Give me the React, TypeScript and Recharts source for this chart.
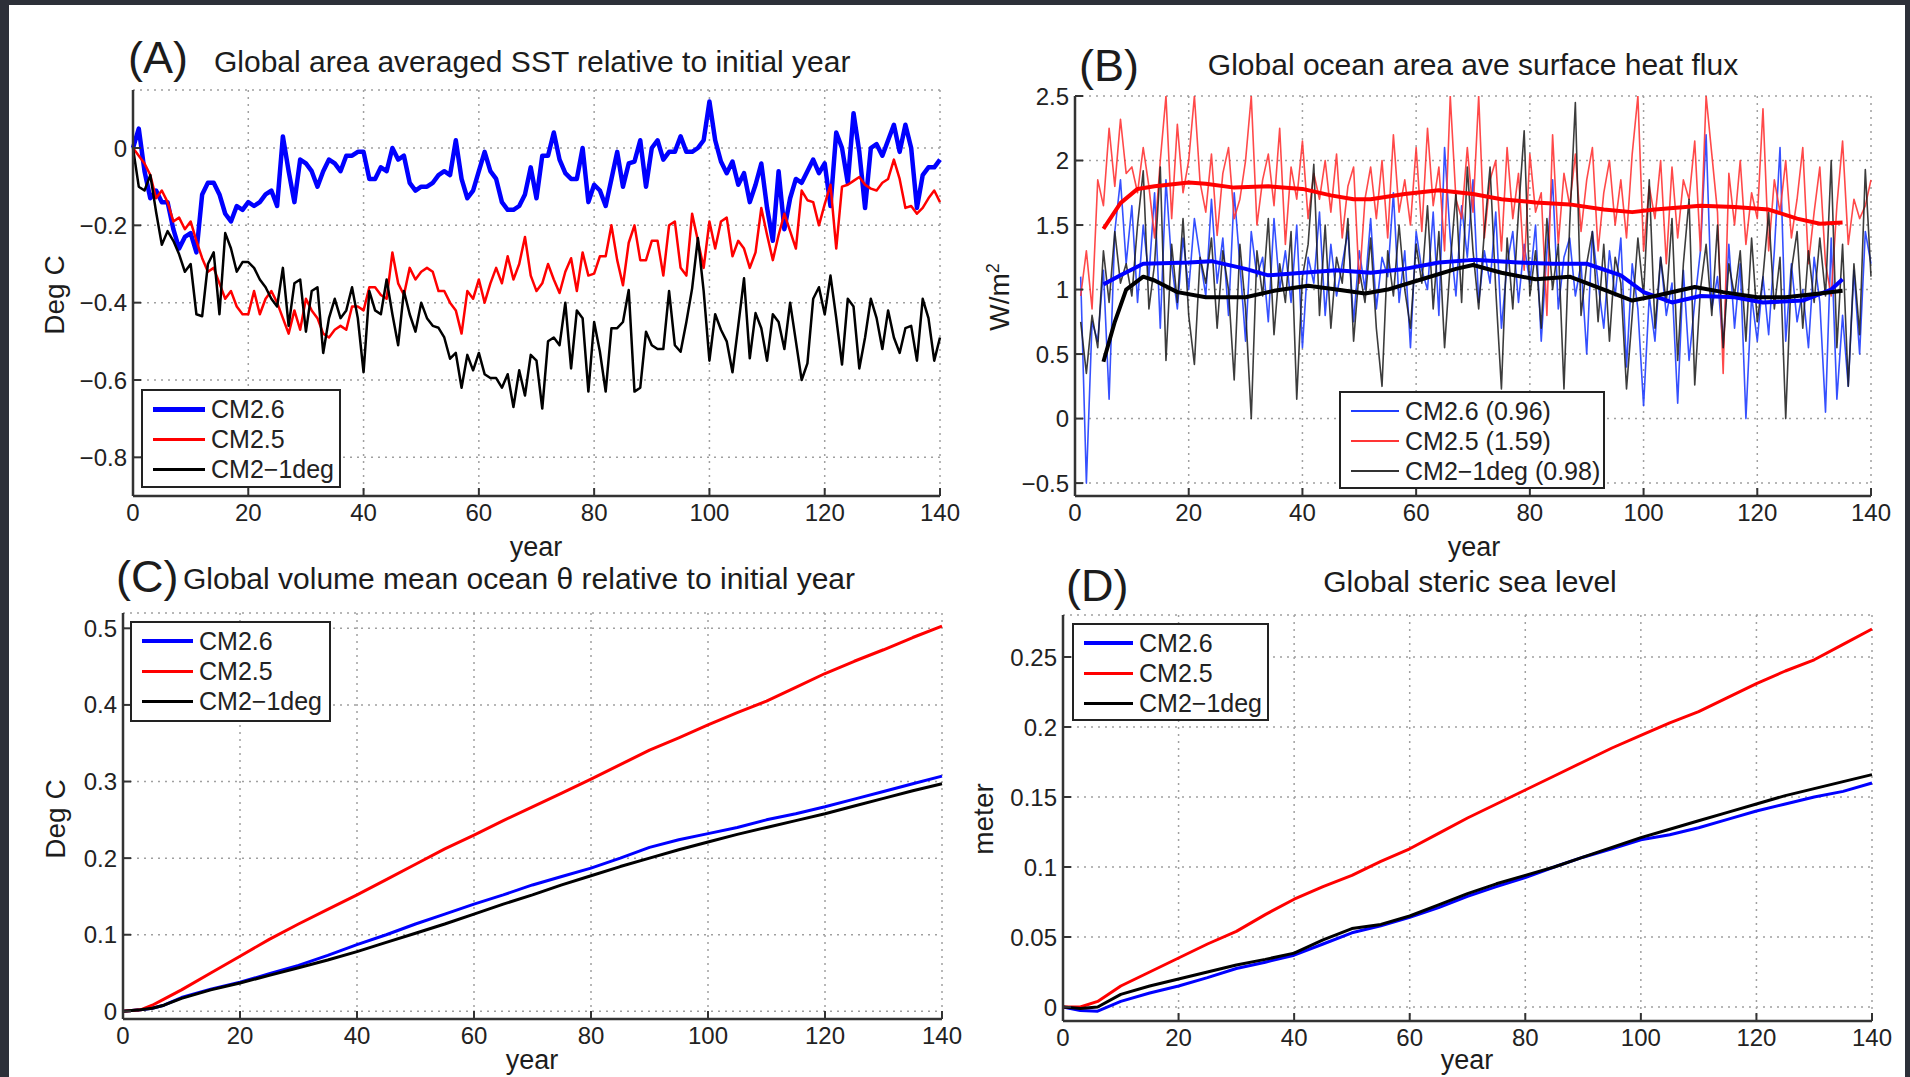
import React from 'react';
import { LineChart, Line, XAxis, YAxis, CartesianGrid, Legend } from 'recharts';

const FONT = '"Liberation Sans", Arial, Helvetica, sans-serif';

// ---------- (A) Global area averaged SST relative to initial year (years 0..140)
const sstYears = Array.from({ length: 141 }, (_, i) => i);
const sstCM26 = [
  0, 0.05, -0.06, -0.13, -0.11, -0.14, -0.14, -0.21, -0.26, -0.23,
  -0.22, -0.27, -0.12, -0.09, -0.09, -0.12, -0.17, -0.19, -0.15, -0.16,
  -0.14, -0.15, -0.14, -0.12, -0.11, -0.15, 0.03, -0.06, -0.14, -0.03,
  -0.04, -0.06, -0.1, -0.06, -0.03, -0.04, -0.06, -0.02, -0.02, -0.01,
  -0.01, -0.08, -0.08, -0.05, -0.06, 0.0, -0.03, -0.02, -0.09, -0.11,
  -0.1, -0.1, -0.09, -0.07, -0.06, -0.07, 0.02, -0.08, -0.13, -0.11,
  -0.06, -0.01, -0.06, -0.08, -0.14, -0.16, -0.16, -0.15, -0.12, -0.05,
  -0.13, -0.02, -0.02, 0.04, -0.03, -0.065, -0.08, -0.08, 0.0, -0.14,
  -0.095, -0.11, -0.15, -0.08, -0.01, -0.1, -0.04, -0.035, 0.02, -0.1,
  0.0, 0.02, -0.03, -0.01, -0.01, 0.03, -0.01, -0.01, 0.0, 0.02,
  0.12, 0.02, -0.035, -0.065, -0.035, -0.095, -0.065, -0.14, -0.095, -0.04,
  -0.155, -0.24, -0.06, -0.21, -0.13, -0.08, -0.09, -0.06, -0.03, -0.065,
  -0.04, -0.15, 0.04, 0.0, -0.09, 0.09, -0.01, -0.155, 0.0, 0.01,
  -0.02, 0.02, 0.06, -0.01, 0.06, 0.0, -0.155, -0.07, -0.05, -0.05, -0.03,
];
const sstCM25 = [
  0, -0.02, -0.04, -0.07, -0.13, -0.11, -0.14, -0.19, -0.18, -0.21,
  -0.19, -0.24, -0.285, -0.32, -0.31, -0.35, -0.39, -0.37, -0.41, -0.43,
  -0.43, -0.37, -0.43, -0.39, -0.37, -0.4, -0.44, -0.48, -0.42, -0.47,
  -0.39, -0.42, -0.44, -0.48, -0.49, -0.47, -0.46, -0.47, -0.41, -0.41,
  -0.42, -0.36, -0.36, -0.38, -0.39, -0.27, -0.35, -0.38, -0.31, -0.34,
  -0.32, -0.31, -0.32, -0.37, -0.37, -0.4, -0.42, -0.48, -0.37, -0.39,
  -0.34, -0.4, -0.35, -0.31, -0.35, -0.28, -0.34, -0.3, -0.23, -0.33,
  -0.37, -0.35, -0.3, -0.34, -0.375, -0.32, -0.285, -0.37, -0.27, -0.33,
  -0.325, -0.28, -0.28, -0.2, -0.29, -0.355, -0.245, -0.2, -0.29, -0.29,
  -0.24, -0.24, -0.33, -0.2, -0.19, -0.31, -0.33, -0.17, -0.24, -0.31,
  -0.19, -0.26, -0.19, -0.18, -0.28, -0.24, -0.26, -0.31, -0.27, -0.155,
  -0.225, -0.29, -0.225, -0.17, -0.215, -0.26, -0.11, -0.135, -0.14, -0.2,
  -0.145, -0.095, -0.26, -0.1, -0.095, -0.085, -0.075, -0.095, -0.105, -0.11,
  -0.09, -0.08, -0.03, -0.08, -0.155, -0.15, -0.17, -0.155, -0.13, -0.11, -0.14,
];
const sstCM21 = [
  0, -0.1, -0.11, -0.07, -0.165, -0.25, -0.215, -0.24, -0.275, -0.32,
  -0.3, -0.43, -0.435, -0.3, -0.27, -0.43, -0.22, -0.26, -0.32, -0.295,
  -0.295, -0.31, -0.34, -0.36, -0.39, -0.41, -0.31, -0.46, -0.35, -0.34,
  -0.475, -0.37, -0.36, -0.53, -0.44, -0.39, -0.44, -0.42, -0.36, -0.44,
  -0.58, -0.37, -0.42, -0.43, -0.34, -0.43, -0.51, -0.37, -0.43, -0.475,
  -0.4, -0.44, -0.46, -0.465, -0.49, -0.545, -0.53, -0.62, -0.535, -0.575,
  -0.53, -0.585, -0.595, -0.595, -0.62, -0.585, -0.67, -0.575, -0.64, -0.535,
  -0.55, -0.674, -0.5, -0.49, -0.51, -0.4, -0.57, -0.42, -0.44, -0.63,
  -0.45, -0.527, -0.63, -0.466, -0.466, -0.45, -0.367, -0.63, -0.62, -0.475,
  -0.51, -0.52, -0.52, -0.37, -0.51, -0.527, -0.45, -0.363, -0.233, -0.37,
  -0.55, -0.43, -0.47, -0.5, -0.58, -0.46, -0.337, -0.544, -0.427, -0.466,
  -0.55, -0.43, -0.45, -0.52, -0.4, -0.5, -0.6, -0.557, -0.39, -0.36,
  -0.43, -0.33, -0.44, -0.56, -0.39, -0.41, -0.57, -0.49, -0.39, -0.44,
  -0.52, -0.42, -0.49, -0.53, -0.466, -0.46, -0.55, -0.39, -0.44, -0.55, -0.49,
];

// ---------- (B) Global ocean area ave surface heat flux (years 1..140)
const fluxYears = Array.from({ length: 140 }, (_, i) => i + 1);
const fluxCM26 = [
  1.1, -0.5, 0.75, 0.6, 1.15, 0.15, 1.45, 1.85, 1.2, 1.65,
  0.9, 1.5, 1.1, 1.75, 0.7, 1.85, 1.2, 0.85, 1.4, 1.0,
  1.55, 1.25, 0.95, 1.7, 1.05, 1.4, 0.8, 1.75, 1.2, 0.6,
  1.45, 1.1, 1.25, 0.75, 1.55, 1.0, 1.3, 0.9, 1.5, 0.55,
  1.25, 1.05, 1.6, 0.8, 1.35, 0.95, 1.2, 1.45, 0.75, 1.3,
  1.0, 1.55, 0.85, 1.25, 1.1, 1.75, 0.9, 1.3, 0.55, 1.45,
  1.15, 1.0, 1.6, 0.8, 2.1, 1.4, 0.95, 1.65, 1.25, 1.85,
  0.9, 1.3, 1.05, 1.6, 0.7, 1.2, 1.45, 0.9, 1.35, 1.05,
  1.5, 0.6, 1.3, 1.85, 0.85, 1.25, 1.4, 0.95, 1.2, 0.5,
  1.45, 1.05, 0.7, 1.3, 0.95, 1.4, 0.4, 1.2, 0.85, 0.1,
  0.95, 0.6, 1.25, 0.8, 1.05, 0.12, 1.15, 0.45, 0.9, 1.3,
  2.2, 0.85, 1.1, 0.55, 1.35, 0.7, 1.2, 0.0, 0.95, 0.6,
  1.1, 0.65, 1.3, 2.1, 0.6, 1.2, 0.75, 1.0, 0.55, 1.25,
  0.9, 0.05, 1.4, 0.15, 0.8, 0.25, 1.15, 0.5, 1.45, 1.2,
];
const fluxCM25 = [
  0.95, 1.3, 0.85, 1.85, 1.65, 2.25, 1.8, 2.32, 1.9, 1.95,
  1.75, 2.1, 1.8, 1.4, 2.0, 2.5, 1.55, 2.28, 1.75, 2.0,
  2.5, 1.83, 1.6, 2.05, 1.42, 1.9, 2.1, 1.55, 1.7, 2.0,
  2.5, 1.5, 1.85, 2.05, 1.65, 2.25, 1.35, 1.95, 1.7, 2.15,
  1.55, 1.9, 1.7, 2.0, 1.6, 2.05, 1.4, 1.8, 1.95, 1.05,
  1.7, 1.95, 1.55, 2.0, 1.4, 2.2, 1.6, 1.85, 1.5, 2.1,
  1.45, 2.25, 1.65, 1.95, 1.3, 2.5, 1.7, 1.55, 2.1, 1.6,
  2.5, 1.4, 1.85, 2.0, 1.3, 2.1, 1.55, 1.9, 1.15, 2.05,
  1.6, 1.75, 0.8, 2.2, 1.35, 1.9, 1.65, 2.05, 1.45, 1.85,
  2.1, 1.3, 1.75, 2.0, 1.5, 1.85, 1.4, 2.05, 2.5, 1.3,
  1.8, 1.55, 2.0, 1.2, 1.95, 1.4, 1.85, 1.7, 2.15, 1.3,
  2.5, 2.05, 1.6, 0.35, 1.9, 1.5, 2.0, 1.35, 1.75, 1.55,
  2.4, 1.3, 1.85, 1.6, 2.0, 1.4, 1.7, 2.1, 1.2, 1.6,
  1.95, 1.2, 0.95, 1.65, 2.15, 1.35, 1.7, 1.55, 1.65, 1.85,
];
const fluxCM21 = [
  0.75, 0.35, 0.8, 0.55, 1.3, 0.9, 1.45, 1.05, 1.2, 0.95,
  1.5, 1.92, 0.85, 1.2, 1.95, 0.45, 1.35, 0.9, 1.55, 0.8,
  0.42, 1.25, 1.05, 1.4, 0.7, 1.3, 1.0, 0.3, 1.35, 0.85,
  0.0, 1.3, 0.95, 1.55, 0.65, 1.2, 0.9, 1.45, 0.15, 1.1,
  1.35, 1.97, 0.8, 1.5, 0.7, 1.25, 1.05, 1.55, 0.6, 1.15,
  0.9, 1.4, 0.7, 0.25, 1.3, 0.95, 1.5, 1.0, 0.7, 1.35,
  1.05, 1.65, 0.85, 1.45, 0.55, 1.2, 1.75, 0.9, 1.95, 1.3,
  0.85, 1.45, 1.95, 1.0, 0.23, 1.4, 0.85, 1.6, 2.23, 0.95,
  1.3, 0.7, 1.55, 1.0, 1.35, 0.23, 1.5, 2.45, 0.8, 1.2,
  1.45, 0.75, 1.35, 0.6, 1.25, 1.05, 0.23, 0.8, 1.4, 0.95,
  1.85, 0.7, 1.25, 0.9, 1.55, 0.45, 1.2, 1.7, 0.26, 1.0,
  1.35, 0.8, 1.5, 0.55, 1.2, 0.95, 1.3, 0.6, 1.4, 0.75,
  1.1, 1.6, 0.85, 1.25, 0.0, 1.15, 1.45, 0.7, 1.3, 0.9,
  1.4, 0.95, 2.0, 0.55, 1.35, 0.25, 1.2, 0.65, 1.93, 1.1,
];
// running means
const smoothYears26 = [5, 8, 12, 20, 24, 30, 34, 40, 46, 52, 58, 64, 70, 78, 84, 90, 96, 100, 105, 110, 116, 121, 128, 133, 135];
const smoothCM26 = [1.04, 1.11, 1.2, 1.21, 1.22, 1.16, 1.11, 1.13, 1.15, 1.13, 1.16, 1.21, 1.23, 1.21, 1.2, 1.2, 1.11, 0.98, 0.9, 0.95, 0.94, 0.9, 0.915, 1.0, 1.08];
const smoothYears25 = [5, 8, 11, 14, 20, 23, 28, 34, 40, 45, 49, 52, 58, 64, 70, 75, 81, 87, 93, 98, 102, 110, 116, 122, 127, 131, 135];
const smoothCM25 = [1.47, 1.67, 1.78, 1.8, 1.83, 1.82, 1.79, 1.8, 1.78, 1.73, 1.7, 1.7, 1.74, 1.77, 1.74, 1.7, 1.675, 1.66, 1.62, 1.6, 1.62, 1.65, 1.64, 1.62, 1.55, 1.51, 1.52];
const smoothYears21 = [5, 7, 9, 12, 14, 18, 23, 30, 35, 41, 46, 51, 55, 61, 67, 70, 75, 81, 87, 93, 98, 102, 109, 114, 120, 125, 131, 135];
const smoothCM21 = [0.44, 0.75, 1.0, 1.1, 1.07, 0.98, 0.94, 0.94, 0.99, 1.03, 1.0, 0.97, 1.0, 1.08, 1.16, 1.19, 1.13, 1.08, 1.1, 1.0, 0.915, 0.95, 1.02, 0.98, 0.94, 0.94, 0.97, 0.99];

// ---------- (C) Global volume mean ocean theta relative to initial year
const thetaYears = [0, 3, 5, 7, 10, 15, 20, 25, 30, 35, 40, 45, 50, 55, 60, 65, 70, 75, 80, 85, 90, 95, 100, 105, 110, 115, 120, 125, 130, 135, 140];
const thetaCM26 = [0, 0.002, 0.004, 0.008, 0.018, 0.029, 0.038, 0.049, 0.06, 0.073, 0.087, 0.1, 0.114, 0.127, 0.14, 0.152, 0.165, 0.176, 0.187, 0.2, 0.214, 0.224, 0.232, 0.24, 0.25, 0.258, 0.267, 0.277, 0.287, 0.297, 0.307];
const thetaCM25 = [0, 0.002, 0.008, 0.016, 0.028, 0.05, 0.072, 0.094, 0.114, 0.133, 0.152, 0.172, 0.192, 0.212, 0.23, 0.249, 0.267, 0.285, 0.303, 0.322, 0.341, 0.357, 0.374, 0.39, 0.405, 0.423, 0.441, 0.457, 0.472, 0.488, 0.503];
const thetaCM21 = [0, 0.002, 0.004, 0.008, 0.017, 0.028, 0.037, 0.047, 0.057, 0.067, 0.078, 0.09, 0.102, 0.114, 0.127, 0.14, 0.152, 0.165, 0.177, 0.189, 0.2, 0.211, 0.221, 0.231, 0.24, 0.249, 0.258, 0.268, 0.278, 0.288, 0.297];

// ---------- (D) Global steric sea level
const stericYears = [0, 3, 6, 10, 15, 20, 25, 30, 35, 40, 45, 50, 55, 60, 65, 70, 75, 80, 85, 90, 95, 100, 105, 110, 115, 120, 125, 130, 135, 140];
const stericCM26 = [0, -0.0025, -0.003, 0.004, 0.01, 0.015, 0.021, 0.0275, 0.032, 0.037, 0.045, 0.053, 0.058, 0.064, 0.071, 0.079, 0.086, 0.0925, 0.1, 0.107, 0.113, 0.1195, 0.123, 0.128, 0.134, 0.14, 0.145, 0.15, 0.154, 0.16];
const stericCM25 = [0, 0, 0.004, 0.015, 0.025, 0.035, 0.045, 0.054, 0.066, 0.077, 0.086, 0.094, 0.104, 0.113, 0.124, 0.135, 0.145, 0.155, 0.165, 0.175, 0.185, 0.194, 0.203, 0.211, 0.221, 0.231, 0.24, 0.248, 0.259, 0.27];
const stericCM21 = [0, -0.001, 0, 0.009, 0.015, 0.02, 0.025, 0.03, 0.034, 0.0385, 0.048, 0.056, 0.059, 0.065, 0.073, 0.081, 0.088, 0.094, 0.1, 0.107, 0.114, 0.121, 0.127, 0.133, 0.139, 0.145, 0.151, 0.156, 0.161, 0.166];

const xTicks = [0, 20, 40, 60, 80, 100, 120, 140];
const ticksA = [-0.8, -0.6, -0.4, -0.2, 0];
const ticksB = [-0.5, 0, 0.5, 1, 1.5, 2, 2.5];
const ticksC = [0, 0.1, 0.2, 0.3, 0.4, 0.5];
const ticksD = [0, 0.05, 0.1, 0.15, 0.2, 0.25];

const BLUE = '#0000ff';
const RED = '#ff0000';
const BLACK = '#000000';

const minus = (s: string) => s.replace('-', '\u2212');

interface Series {
  key: string;
  xs: number[];
  ys: number[];
  color: string;
  width: number;
  opacity?: number;
}

interface LegendRow {
  label: string;
  color: string;
  width: number;
}

interface LegendBox {
  x: number;
  y: number;
  w: number;
  h: number;
  lineLen: number;
  rows: LegendRow[];
}

interface PanelProps {
  x: number;
  y: number;
  w: number;
  h: number;
  yDomain: [number, number];
  yTicks: number[];
  fmt: (v: number) => string;
  series: Series[];
  legend: LegendBox;
}

const PAD_L = 100;
const PAD_R = 34;
const PAD_T = 12;
const PAD_B = 50;

const toPoints = (xs: number[], ys: number[]) => xs.map((x, i) => ({ x, y: ys[i] }));

const axisLine = { stroke: '#333', strokeWidth: 2.5 };
const tickLine = { stroke: '#333', strokeWidth: 2 };
const tickFont = { fontSize: 24, fill: '#222', fontFamily: FONT };

function Panel(p: PanelProps) {
  const width = p.w + PAD_L + PAD_R;
  const height = p.h + PAD_T + PAD_B;
  const left = p.x - PAD_L;
  const top = p.y - PAD_T;
  const lg = p.legend;

  const legendContent = () => (
    <div
      style={{
        boxSizing: 'border-box',
        width: lg.w,
        height: lg.h,
        border: '2px solid #222',
        background: '#fff',
        padding: '3px 0 0 10px',
      }}
    >
      {lg.rows.map((r) => (
        <div key={r.label} style={{ display: 'flex', alignItems: 'center', height: 30 }}>
          <span style={{ display: 'inline-block', width: lg.lineLen, borderTop: `${r.width}px solid ${r.color}` }} />
          <span style={{ marginLeft: 6, fontSize: 25, color: '#222', fontFamily: FONT, whiteSpace: 'nowrap' }}>{r.label}</span>
        </div>
      ))}
    </div>
  );

  return (
    <div style={{ position: 'absolute', left, top }}>
      <LineChart width={width} height={height} margin={{ top: PAD_T, right: PAD_R, bottom: 0, left: 0 }}>
        <CartesianGrid stroke="#a0a0a0" strokeDasharray="2 5" strokeWidth={1.5} />
        <XAxis
          dataKey="x"
          type="number"
          domain={[0, 140]}
          ticks={xTicks}
          interval={0}
          height={PAD_B}
          tickSize={-8}
          tickMargin={16}
          axisLine={axisLine}
          tickLine={tickLine}
          tick={tickFont}
        />
        <XAxis
          xAxisId="top"
          orientation="top"
          dataKey="x"
          type="number"
          domain={[0, 140]}
          ticks={xTicks}
          interval={0}
          height={0}
          tickSize={-8}
          axisLine={axisLine}
          tickLine={tickLine}
          tick={false}
        />
        <YAxis
          type="number"
          domain={p.yDomain}
          ticks={p.yTicks}
          interval={0}
          allowDataOverflow
          width={PAD_L}
          tickSize={-8}
          tickMargin={14}
          axisLine={axisLine}
          tickLine={tickLine}
          tick={tickFont}
          tickFormatter={p.fmt}
        />
        <YAxis
          yAxisId="right"
          orientation="right"
          type="number"
          domain={p.yDomain}
          ticks={p.yTicks}
          interval={0}
          allowDataOverflow
          width={0}
          tickSize={-8}
          axisLine={axisLine}
          tickLine={tickLine}
          tick={false}
        />
        {p.series.map((s) => (
          <Line
            key={s.key}
            data={toPoints(s.xs, s.ys)}
            dataKey="y"
            type="linear"
            stroke={s.color}
            strokeWidth={s.width}
            strokeOpacity={s.opacity ?? 1}
            strokeLinejoin="round"
            dot={false}
            activeDot={false}
            isAnimationActive={false}
            legendType="none"
          />
        ))}
        <Legend
          layout="vertical"
          align="center"
          verticalAlign="middle"
          content={legendContent}
          wrapperStyle={{ left: lg.x - left, top: lg.y - top, width: lg.w, height: lg.h }}
        />
      </LineChart>
    </div>
  );
}

interface TxtProps {
  x: number;
  y: number;
  size: number;
  anchor?: 'start' | 'middle';
  rotate?: boolean;
  children: React.ReactNode;
}

function Txt({ x, y, size, anchor = 'start', rotate = false, children }: TxtProps) {
  const tx = anchor === 'middle' || rotate ? '-50%' : '0';
  return (
    <div
      style={{
        position: 'absolute',
        left: x,
        top: y,
        fontSize: size,
        lineHeight: 1,
        color: '#1c1c1c',
        whiteSpace: 'nowrap',
        fontFamily: FONT,
        transform: `translate(${tx}, -50%)${rotate ? ' rotate(-90deg)' : ''}`,
      }}
    >
      {children}
    </div>
  );
}

const legendRows = (w26: number, w25: number, w21: number): LegendRow[] => [
  { label: 'CM2.6', color: BLUE, width: w26 },
  { label: 'CM2.5', color: RED, width: w25 },
  { label: 'CM2\u22121deg', color: BLACK, width: w21 },
];

export default function App() {
  const fmtA = (v: number) => (v === 0 ? '0' : minus(v.toFixed(1)));
  const fmtB = (v: number) => minus(String(v));
  const fmtC = (v: number) => (v === 0 ? '0' : v.toFixed(1));
  const fmtD = (v: number) => String(v);

  return (
    <div style={{ position: 'absolute', left: 0, top: 0, width: 1910, height: 1077, background: '#2d3039', overflow: 'hidden', fontFamily: FONT }}>
      <div style={{ position: 'absolute', left: 9, top: 5, width: 1896, height: 1072, background: '#ffffff' }} />

      {/* (A) */}
      <Panel
        x={133}
        y={90}
        w={807}
        h={406}
        yDomain={[-0.9, 0.15]}
        yTicks={ticksA}
        fmt={fmtA}
        series={[
          { key: 'a26', xs: sstYears, ys: sstCM26, color: BLUE, width: 4.5 },
          { key: 'a25', xs: sstYears, ys: sstCM25, color: RED, width: 2.5 },
          { key: 'a21', xs: sstYears, ys: sstCM21, color: BLACK, width: 2.5 },
        ]}
        legend={{ x: 141, y: 389, w: 200, h: 99, lineLen: 52, rows: legendRows(5, 3, 3) }}
      />
      <Txt x={128} y={57} size={45}>(A)</Txt>
      <Txt x={214} y={62} size={30}>Global area averaged SST relative to initial year</Txt>
      <Txt x={536} y={547} size={27} anchor="middle">year</Txt>
      <Txt x={55} y={295} size={28} rotate>Deg C</Txt>

      {/* (B) */}
      <Panel
        x={1075}
        y={96}
        w={796}
        h={400}
        yDomain={[-0.6, 2.5]}
        yTicks={ticksB}
        fmt={fmtB}
        series={[
          { key: 'b26', xs: fluxYears, ys: fluxCM26, color: '#1f3dff', width: 1.6, opacity: 0.9 },
          { key: 'b25', xs: fluxYears, ys: fluxCM25, color: '#ff3535', width: 1.6, opacity: 0.9 },
          { key: 'b21', xs: fluxYears, ys: fluxCM21, color: '#1a1a1a', width: 1.6, opacity: 0.85 },
          { key: 'bs25', xs: smoothYears25, ys: smoothCM25, color: RED, width: 4 },
          { key: 'bs26', xs: smoothYears26, ys: smoothCM26, color: BLUE, width: 4 },
          { key: 'bs21', xs: smoothYears21, ys: smoothCM21, color: BLACK, width: 4 },
        ]}
        legend={{
          x: 1339,
          y: 391,
          w: 266,
          h: 98,
          lineLen: 48,
          rows: [
            { label: 'CM2.6 (0.96)', color: '#1f3dff', width: 2 },
            { label: 'CM2.5 (1.59)', color: '#ff3535', width: 2 },
            { label: 'CM2\u22121deg (0.98)', color: '#333', width: 2 },
          ],
        }}
      />
      <Txt x={1079} y={65} size={45}>(B)</Txt>
      <Txt x={1473} y={65} size={30} anchor="middle">Global ocean area ave surface heat flux</Txt>
      <Txt x={1474} y={547} size={27} anchor="middle">year</Txt>
      <Txt x={999} y={297} size={28} rotate>
        W/m<sup style={{ fontSize: 18 }}>2</sup>
      </Txt>

      {/* (C) */}
      <Panel
        x={123}
        y={613}
        w={819}
        h={406}
        yDomain={[-0.01, 0.52]}
        yTicks={ticksC}
        fmt={fmtC}
        series={[
          { key: 'c26', xs: thetaYears, ys: thetaCM26, color: BLUE, width: 3 },
          { key: 'c25', xs: thetaYears, ys: thetaCM25, color: RED, width: 3 },
          { key: 'c21', xs: thetaYears, ys: thetaCM21, color: BLACK, width: 3 },
        ]}
        legend={{ x: 130, y: 621, w: 201, h: 101, lineLen: 51, rows: legendRows(4, 3, 3) }}
      />
      <Txt x={116} y={576} size={45}>(C)</Txt>
      <Txt x={183} y={579} size={30}>Global volume mean ocean θ relative to initial year</Txt>
      <Txt x={532} y={1060} size={27} anchor="middle">year</Txt>
      <Txt x={56} y={819} size={28} rotate>Deg C</Txt>

      {/* (D) */}
      <Panel
        x={1063}
        y={615}
        w={809}
        h={406}
        yDomain={[-0.01, 0.28]}
        yTicks={ticksD}
        fmt={fmtD}
        series={[
          { key: 'd26', xs: stericYears, ys: stericCM26, color: BLUE, width: 3 },
          { key: 'd25', xs: stericYears, ys: stericCM25, color: RED, width: 3 },
          { key: 'd21', xs: stericYears, ys: stericCM21, color: BLACK, width: 3 },
        ]}
        legend={{ x: 1072, y: 623, w: 197, h: 98, lineLen: 49, rows: legendRows(4, 3, 3) }}
      />
      <Txt x={1066} y={585} size={45}>(D)</Txt>
      <Txt x={1470} y={582} size={30} anchor="middle">Global steric sea level</Txt>
      <Txt x={1467} y={1060} size={27} anchor="middle">year</Txt>
      <Txt x={984} y={819} size={28} rotate>meter</Txt>
    </div>
  );
}
